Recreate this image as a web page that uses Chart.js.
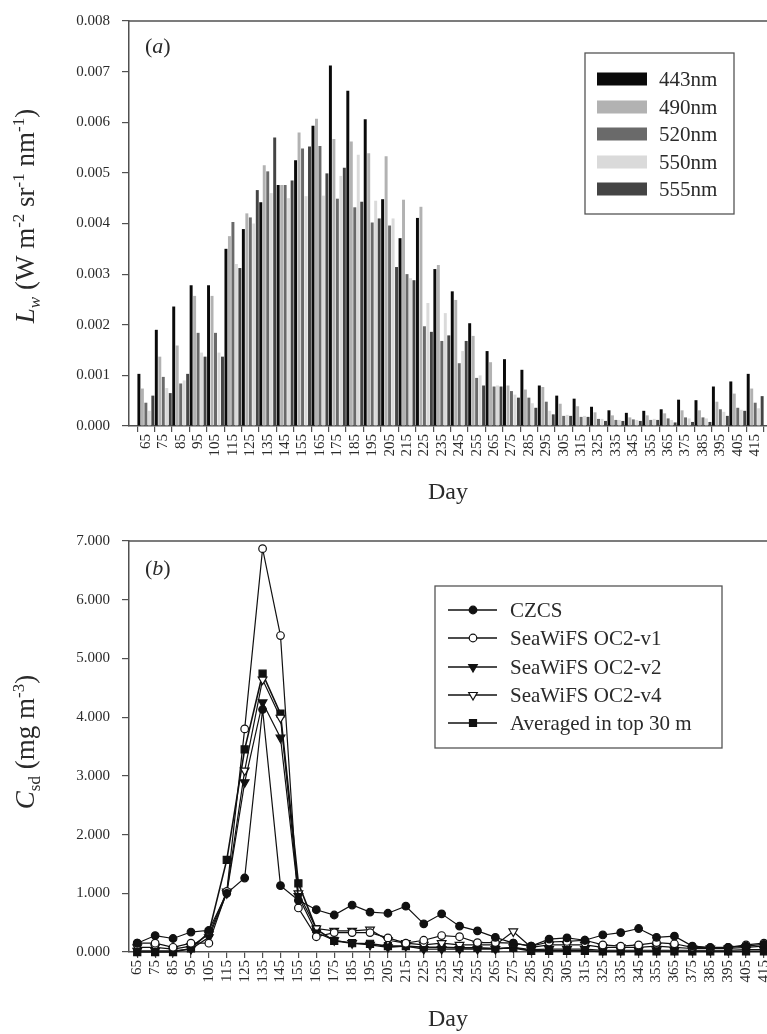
<!DOCTYPE html>
<html>
<head>
<meta charset="utf-8">
<script src="https://cdn.jsdelivr.net/npm/chart.js@4.4.0/dist/chart.umd.min.js"></script>
<style>
html, body { margin: 0; padding: 0; background: #fff; overflow: hidden; }
canvas { position: absolute; left: 0; }
#lwChart { top: 0; }
#csdChart { top: 520px; }
</style>
</head>
<body>
<canvas id="lwChart" width="767" height="520"></canvas>
<canvas id="csdChart" width="767" height="514"></canvas>
<script>
// days (x categories) shared by both panels
const days = [65, 75, 85, 95, 105, 115, 125, 135, 145, 155, 165, 175, 185, 195, 205, 215, 225, 235,
              245, 255, 265, 275, 285, 295, 305, 315, 325, 335, 345, 355, 365, 375, 385, 395, 405, 415];

// panel (a): water-leaving radiance per band
const lw443 = [0.00103, 0.00190, 0.00236, 0.00278, 0.00278, 0.00350, 0.00389, 0.00442, 0.00476, 0.00525, 0.00593, 0.00712,
               0.00662, 0.00606, 0.00448, 0.00371, 0.00411, 0.00310, 0.00266, 0.00203, 0.00148, 0.00132, 0.00111, 0.00080,
               0.00060, 0.00054, 0.00038, 0.00031, 0.00026, 0.00030, 0.00033, 0.00052, 0.00051, 0.00078, 0.00088, 0.00103];
const lw490 = [0.00074, 0.00137, 0.00159, 0.00257, 0.00257, 0.00375, 0.00420, 0.00515, 0.00476, 0.00580, 0.00607, 0.00567,
               0.00562, 0.00539, 0.00533, 0.00447, 0.00433, 0.00318, 0.00249, 0.00178, 0.00126, 0.00080, 0.00072, 0.00077,
               0.00044, 0.00039, 0.00027, 0.00021, 0.00017, 0.00021, 0.00025, 0.00031, 0.00031, 0.00048, 0.00064, 0.00074];
const lw520 = [0.00046, 0.00097, 0.00084, 0.00184, 0.00184, 0.00403, 0.00412, 0.00503, 0.00476, 0.00548, 0.00553, 0.00449,
               0.00432, 0.00402, 0.00396, 0.00300, 0.00197, 0.00168, 0.00124, 0.00095, 0.00078, 0.00069, 0.00056, 0.00048,
               0.00020, 0.00018, 0.00014, 0.00012, 0.00013, 0.00012, 0.00015, 0.00017, 0.00017, 0.00033, 0.00036, 0.00046];
const lw550 = [0.00030, 0.00075, 0.00090, 0.00145, 0.00145, 0.00320, 0.00400, 0.00460, 0.00450, 0.00454, 0.00455, 0.00494,
               0.00536, 0.00445, 0.00410, 0.00292, 0.00243, 0.00223, 0.00148, 0.00100, 0.00080, 0.00062, 0.00045, 0.00030,
               0.00022, 0.00020, 0.00014, 0.00012, 0.00012, 0.00014, 0.00012, 0.00015, 0.00015, 0.00028, 0.00032, 0.00035];
const lw555 = [0.00060, 0.00065, 0.00103, 0.00137, 0.00137, 0.00312, 0.00466, 0.00570, 0.00485, 0.00552, 0.00499, 0.00510,
               0.00443, 0.00410, 0.00314, 0.00288, 0.00186, 0.00179, 0.00168, 0.00080, 0.00078, 0.00056, 0.00036, 0.00023,
               0.00020, 0.00018, 0.00010, 0.00010, 0.00010, 0.00012, 0.00007, 0.00008, 0.00008, 0.00020, 0.00030, 0.00059];
const lwTicks = [0, 0.001, 0.002, 0.003, 0.004, 0.005, 0.006, 0.007, 0.008];

// panel (b): chlorophyll
const czcs = [0.15, 0.28, 0.23, 0.34, 0.37, 1.00, 1.26, 4.13, 1.13, 0.88, 0.72, 0.63, 0.80, 0.68, 0.66, 0.78, 0.48, 0.65,
              0.44, 0.36, 0.25, 0.15, 0.10, 0.22, 0.24, 0.20, 0.29, 0.33, 0.40, 0.25, 0.27, 0.10, 0.08, 0.08, 0.10, 0.13];
const oc2v1 = [0.15, 0.15, 0.08, 0.15, 0.15, 1.03, 3.80, 6.87, 5.39, 0.75, 0.26, 0.33, 0.33, 0.33, 0.24, 0.15, 0.20, 0.28,
               0.26, 0.16, 0.16, 0.15, 0.10, 0.17, 0.18, 0.20, 0.12, 0.10, 0.12, 0.16, 0.14, 0.08, 0.07, 0.08, 0.12, 0.15];
const oc2v2 = [0.02, 0.02, 0.02, 0.05, 0.25, 1.00, 2.89, 4.25, 3.65, 0.95, 0.33, 0.20, 0.15, 0.12, 0.08, 0.10, 0.05, 0.05,
               0.05, 0.05, 0.05, 0.08, 0.04, 0.05, 0.05, 0.05, 0.03, 0.03, 0.03, 0.03, 0.03, 0.03, 0.03, 0.03, 0.04, 0.04];
const oc2v4 = [0.08, 0.08, 0.05, 0.10, 0.30, 1.03, 3.09, 4.64, 3.99, 1.00, 0.40, 0.36, 0.36, 0.38, 0.20, 0.15, 0.12, 0.15,
               0.12, 0.12, 0.12, 0.35, 0.08, 0.12, 0.12, 0.12, 0.08, 0.08, 0.08, 0.10, 0.08, 0.06, 0.06, 0.06, 0.08, 0.10];
const top30 = [0.00, 0.00, 0.00, 0.06, 0.33, 1.57, 3.45, 4.74, 4.06, 1.17, 0.39, 0.19, 0.15, 0.14, 0.10, 0.10, 0.08, 0.08,
               0.07, 0.07, 0.06, 0.07, 0.02, 0.02, 0.02, 0.02, 0.01, 0.01, 0.01, 0.01, 0.01, 0.01, 0.01, 0.01, 0.01, 0.01];
const csdTicks = [0, 1, 2, 3, 4, 5, 6, 7];

const serif = 'Liberation Serif';
const ink = '#2a2a2a';
const axisGrey = '#505050';

function xAxis(height, titlePad) {
    return {
        type: 'linear',
        min: 60.4,
        max: 416.7,
        afterBuildTicks: s => { s.ticks = days.map(v => ({ value: v })); },
        afterFit: s => { s.height = height; s.paddingLeft = 0; s.paddingRight = 0; },
        grid: { drawOnChartArea: false, tickLength: 6, color: axisGrey, lineWidth: 1.2 },
        border: { color: axisGrey, width: 1.5 },
        ticks: {
            autoSkip: false, minRotation: 90, maxRotation: 90, padding: 2,
            color: ink, font: { family: serif, size: 15 },
            callback: v => String(v)
        },
        title: { display: true, text: 'Day', color: ink, font: { family: serif, size: 24 }, padding: { top: 0, bottom: titlePad } }
    };
}

function yAxis(max, tickList) {
    return {
        min: 0,
        max: max,
        afterBuildTicks: s => { s.ticks = tickList.map(v => ({ value: v })); },
        afterFit: s => { s.width = 129; },
        grid: { drawOnChartArea: false, tickLength: 7, color: axisGrey, lineWidth: 1.2 },
        border: { color: axisGrey, width: 1.5 },
        ticks: { padding: 12, color: ink, font: { family: serif, size: 15 }, callback: v => v.toFixed(3) }
    };
}

// text with italic / sub / superscript pieces, optionally rotated
function drawRich(ctx, parts, x, y, rotate) {
    ctx.save();
    ctx.translate(x, y);
    if (rotate) ctx.rotate(-Math.PI / 2);
    let w = 0;
    parts.forEach(p => { ctx.font = p.f; w += ctx.measureText(p.t).width; });
    let cx = rotate ? -w / 2 : 0;
    ctx.fillStyle = ink;
    ctx.textBaseline = 'alphabetic';
    parts.forEach(p => {
        ctx.font = p.f;
        ctx.fillText(p.t, cx, p.dy || 0);
        cx += ctx.measureText(p.t).width;
    });
    ctx.restore();
}

function marker(ctx, style, fill, x, y) {
    ctx.save();
    ctx.fillStyle = fill;
    ctx.strokeStyle = '#111';
    ctx.lineWidth = 1.2;
    ctx.beginPath();
    if (style === 'circle') {
        ctx.arc(x, y, 3.8, 0, Math.PI * 2);
    } else if (style === 'tri') {
        ctx.moveTo(x, y + 5);
        ctx.lineTo(x - 4.3, y - 2.5);
        ctx.lineTo(x + 4.3, y - 2.5);
        ctx.closePath();
    } else {
        ctx.rect(x - 3.5, y - 3.5, 7, 7);
    }
    ctx.fill();
    ctx.stroke();
    ctx.restore();
}

const big = `27px "${serif}"`;
const bigIt = `italic 27px "${serif}"`;
const small = `17px "${serif}"`;
const smallIt = `italic 17px "${serif}"`;

const decor = {
    id: 'decor',
    afterDraw(chart, args, opts) {
        const { ctx, chartArea: a } = chart;
        ctx.save();
        // top frame line
        ctx.strokeStyle = axisGrey;
        ctx.lineWidth = 1.5;
        ctx.beginPath();
        ctx.moveTo(a.left, a.top);
        ctx.lineTo(a.right, a.top);
        ctx.stroke();

        // panel label
        drawRich(ctx, [{ t: '(', f: `22px "${serif}"` }, { t: opts.panel, f: `italic 22px "${serif}"` }, { t: ')', f: `22px "${serif}"` }],
                 145, opts.panelY, false);

        // y title
        drawRich(ctx, opts.yTitle, 34, opts.yTitleY, true);

        // legend box
        const b = opts.box;
        ctx.strokeStyle = '#555';
        ctx.lineWidth = 1.3;
        ctx.fillStyle = '#fff';
        ctx.fillRect(b[0], b[1], b[2], b[3]);
        ctx.strokeRect(b[0], b[1], b[2], b[3]);
        ctx.font = `21px "${serif}"`;
        ctx.textBaseline = 'middle';
        chart.data.datasets.forEach((ds, i) => {
            const y = opts.rowY[i];
            if (opts.kind === 'bar') {
                ctx.fillStyle = ds.backgroundColor;
                ctx.fillRect(597, y - 6.5, 50, 13);
            } else {
                ctx.strokeStyle = '#111';
                ctx.lineWidth = 1.3;
                ctx.beginPath();
                ctx.moveTo(448, y);
                ctx.lineTo(497, y);
                ctx.stroke();
                marker(ctx, opts.marks[i][0], opts.marks[i][1], 473, y);
            }
            ctx.fillStyle = ink;
            ctx.fillText(ds.label, opts.textX, y + 1);
        });
        ctx.restore();
    }
};

function barSet(label, data, color) {
    return { label, data, backgroundColor: color, borderWidth: 0, barPercentage: 0.85, categoryPercentage: 1.0 };
}

new Chart(document.getElementById('lwChart'), {
    type: 'bar',
    data: {
        labels: days,
        datasets: [
            barSet('443nm', lw443, '#0a0a0a'),
            barSet('490nm', lw490, '#b2b2b2'),
            barSet('520nm', lw520, '#6a6a6a'),
            barSet('550nm', lw550, '#dadada'),
            barSet('555nm', lw555, '#444444')
        ]
    },
    options: {
        responsive: false,
        animation: false,
        layout: { autoPadding: false, padding: { top: 16, left: 0, right: 0, bottom: 0 } },
        scales: { x: xAxis(94, 12.6), y: yAxis(0.008, lwTicks) },
        plugins: {
            legend: { display: false },
            tooltip: { enabled: false },
            decor: {
                panel: 'a', panelY: 53, kind: 'bar',
                yTitle: [
                    { t: 'L', f: bigIt }, { t: 'w', f: smallIt, dy: 6 },
                    { t: ' (W m', f: big }, { t: '-2', f: small, dy: -10 },
                    { t: ' sr', f: big }, { t: '-1', f: small, dy: -10 },
                    { t: ' nm', f: big }, { t: '-1', f: small, dy: -10 },
                    { t: ')', f: big }
                ],
                yTitleY: 216,
                box: [585, 53, 149, 161],
                rowY: [79, 107, 134, 162, 189],
                textX: 659
            }
        }
    },
    plugins: [decor]
});

function lineSet(label, data, style, fill, radius, rot, width) {
    return {
        label, data,
        borderColor: '#111', borderWidth: width, backgroundColor: fill,
        pointStyle: style, pointRotation: rot, pointRadius: radius,
        pointBackgroundColor: fill, pointBorderColor: '#111', pointBorderWidth: 1.2,
        tension: 0, clip: false
    };
}

new Chart(document.getElementById('csdChart'), {
    type: 'line',
    data: {
        labels: days,
        datasets: [
            lineSet('CZCS', czcs, 'circle', '#111', 3.8, 0, 1.2),
            lineSet('SeaWiFS OC2-v1', oc2v1, 'circle', '#fff', 3.8, 0, 1.2),
            lineSet('SeaWiFS OC2-v2', oc2v2, 'triangle', '#111', 5, 180, 1.2),
            lineSet('SeaWiFS OC2-v4', oc2v4, 'triangle', '#fff', 5, 180, 1.2),
            lineSet('Averaged in top 30 m', top30, 'rect', '#111', 5, 0, 1.6)
        ]
    },
    options: {
        responsive: false,
        animation: false,
        layout: { autoPadding: false, padding: { top: 21, left: 0, right: 0, bottom: 0 } },
        scales: { x: xAxis(82, 0), y: yAxis(7, csdTicks) },
        plugins: {
            legend: { display: false },
            tooltip: { enabled: false },
            decor: {
                panel: 'b', panelY: 55, kind: 'line',
                marks: [['circle', '#111'], ['circle', '#fff'], ['tri', '#111'], ['tri', '#fff'], ['rect', '#111']],
                yTitle: [
                    { t: 'C', f: bigIt }, { t: 'sd', f: small, dy: 6 },
                    { t: ' (mg m', f: big }, { t: '-3', f: small, dy: -10 },
                    { t: ')', f: big }
                ],
                yTitleY: 222,
                box: [435, 66, 287, 162],
                rowY: [90, 118, 147, 175, 203],
                textX: 510
            }
        }
    },
    plugins: [decor]
});
</script>
</body>
</html>
